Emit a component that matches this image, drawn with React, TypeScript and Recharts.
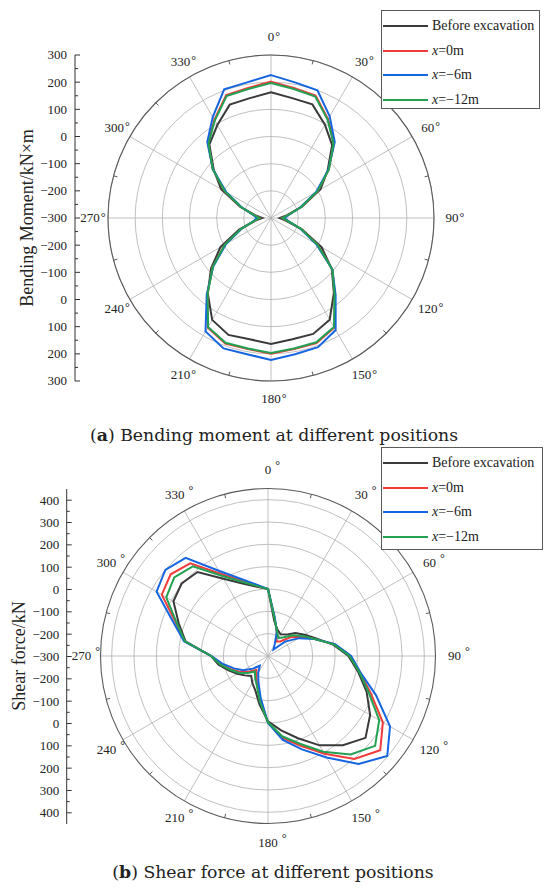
import React from 'react';
import {
  RadarChart, Radar, PolarGrid, PolarAngleAxis, PolarRadiusAxis, Legend,
  LineChart, Line, YAxis,
} from 'recharts';

// ---------- data ----------
const angles = [0,10,20,30,40,50,60,70,80,90,100,110,120,130,140,150,160,170,180,190,200,210,220,230,240,250,260,270,280,290,300,310,320,330,340,350];

const seriesNames = ['Before excavation', 'x=0m', 'x=\u22126m', 'x=\u221212m'];
const seriesColors = ['#3a3a3a', '#f03b3b', '#1565e0', '#22a152'];

// (a) bending moment, kN·m
const momentBefore = [163,148,145,97,50,-28,-90,-180,-240,-268,-245,-180,-85,-8,60,132,154,153,164,153,158,133,62,-12,-85,-175,-240,-268,-240,-180,-88,-25,53,95,144,148];
const momentX0 = [202,186,180,120,60,-22,-102,-182,-235,-258,-238,-183,-102,-5,66,166,190,190,200,190,192,166,64,-20,-104,-183,-238,-258,-235,-182,-104,-20,60,117,182,186];
const momentX6 = [226,207,200,132,65,-25,-108,-185,-232,-250,-235,-185,-108,-5,70,176,206,209,223,209,211,182,68,-23,-109,-185,-235,-248,-232,-185,-110,-21,65,129,204,207];
const momentX12 = [197,182,176,117,58,-22,-102,-182,-235,-258,-238,-183,-102,-5,64,163,187,188,197,188,189,163,63,-20,-104,-183,-238,-258,-235,-182,-104,-20,58,114,178,182];

// (b) shear force, kN
const shearBefore = [0,-140,-175,-188,-175,-140,-110,-70,-5,60,110,170,228,270,222,162,92,38,-8,-80,-135,-160,-183,-165,-141,-112,-75,-45,75,125,189,205,191,99,47,16];
const shearX0 = [0,-128,-185,-225,-215,-170,-128,-78,2,70,118,190,294,356,302,205,128,72,-2,-98,-160,-195,-219,-192,-158,-125,-85,-46,80,140,249,269,242,125,60,22];
const shearX6 = [0,-125,-185,-240,-262,-200,-140,-78,5,72,120,215,331,397,331,225,145,82,0,-110,-175,-212,-243,-212,-172,-138,-95,-47,82,153,276,300,274,141,69,27];
const shearX12 = [0,-130,-182,-207,-190,-155,-120,-78,0,65,115,180,275,326,276,195,118,65,-3,-92,-155,-185,-209,-182,-150,-120,-82,-45,78,135,226,248,224,115,55,20];

// ticks
const angleTicks = [0,30,60,90,120,150,180,210,240,270,300,330];
const minorAngleTicks = [15,45,75,105,135,165,195,225,255,285,315,345];
const momentTicks = [300,200,100,0,-100,-200,-300];
const shearTicks = [400,300,200,100,0,-100,-200,-300];
const momentDomain = [-300, 300];
const shearDomain = [-300, 450];

const titleA = 'Bending Moment/kN\u00d7m';
const titleB = 'Shear force/kN';

// ---------- helpers ----------
const serif = "'Liberation Serif', 'Times New Roman', serif";
const captionFont = "'DejaVu Serif', serif";
const keys = ['s0', 's1', 's2', 's3'];

const build = (lists: number[][]) =>
  angles.map((angle, i) => {
    const row: Record<string, number> = { angle };
    lists.forEach((l, k) => { row[keys[k]] = l[i]; });
    return row;
  });

const momentData = build([momentBefore, momentX0, momentX6, momentX12]);
const shearData = build([shearBefore, shearX0, shearX6, shearX12]);

const sortedAsc = (t: number[]) => [...t].sort((a, b) => a - b);
const mids = (t: number[]) => {
  const s = sortedAsc(t);
  return s.slice(0, -1).map((v, i) => (v + s[i + 1]) / 2);
};

const fmt = (v: number) => (v < 0 ? '\u2212' + Math.abs(v) : String(v));

const renderName = (name: string) =>
  name.startsWith('x') ? (
    <span><i>x</i>{name.slice(1)}</span>
  ) : (
    <span>{name}</span>
  );

const legendContent = (props: any) => {
  const payload = props.payload || [];
  return (
    <div
      style={{
        border: '1.3px solid #5a5a5a',
        background: '#fff',
        boxSizing: 'border-box',
        width: '100%',
        height: '100%',
        paddingTop: 2.5,
      }}
    >
      {payload.map((e: any) => (
        <div key={e.value} style={{ display: 'flex', alignItems: 'center', height: 24.7 }}>
          <svg width={47} height={10} style={{ display: 'block' }}>
            <line x1={1} x2={46} y1={5} y2={5} stroke={e.color} strokeWidth={2} />
          </svg>
          <span style={{ marginLeft: 3, fontFamily: serif, fontSize: 14, color: '#222', lineHeight: '16px', whiteSpace: 'nowrap' }}>
            {renderName(String(e.value))}
          </span>
        </div>
      ))}
    </div>
  );
};

const makeAngleTick = (degGap: number, degRise: number) => (props: any) => {
  const { x, y, payload } = props;
  const label = String(payload.value);
  const half = label.length * 3.25;
  return (
    <g>
      <text x={x} y={y} dy={4.4} textAnchor="middle" fontSize={13} fontFamily={serif} fill="#222">
        {label}
      </text>
      <text x={x + half + degGap} y={y + 4.4 - degRise} textAnchor="start" fontSize={12} fontFamily={serif} fill="#222">
        {'\u00b0'}
      </text>
    </g>
  );
};

type PanelProps = {
  data: any[];
  top: number;
  cx: number;
  cy: number;
  outerRadius: number;
  domain: number[];
  ticks: number[];
  legendBox: { left: number; top: number; width: number; height: number };
  labelDist: number;
  degGap: number;
  degRise: number;
};

function PolarPanel(p: PanelProps) {
  const major = sortedAsc(p.ticks);
  const minor = mids(p.ticks);
  return (
    <div style={{ position: 'absolute', left: 0, top: p.top, width: 550, height: 440 }}>
      <RadarChart
        width={550}
        height={440}
        data={p.data}
        cx={p.cx}
        cy={p.cy}
        outerRadius={p.outerRadius}
        margin={{ top: 0, right: 0, bottom: 0, left: 0 }}
      >
        <PolarGrid
          gridType="circle"
          angleAxisId="minor"
          radiusAxisId="minor"
          stroke="#c6c6c6"
          strokeWidth={0.8}
          strokeDasharray="1.5 2"
        />
        <PolarGrid gridType="circle" stroke="#b0b0b0" strokeWidth={0.8} />
        <PolarRadiusAxis type="number" domain={p.domain} ticks={major} tick={false} axisLine={false} tickLine={false} />
        <PolarRadiusAxis radiusAxisId="minor" type="number" domain={p.domain} ticks={minor} tick={false} axisLine={false} tickLine={false} />
        <PolarAngleAxis
          dataKey="angle"
          type="number"
          domain={[0, 360]}
          ticks={angleTicks}
          axisLineType="circle"
          stroke="#5a5a5a"
          axisLine={{ strokeWidth: 1.1 }}
          tickLine={false}
          tickSize={p.labelDist}
          tick={makeAngleTick(p.degGap, p.degRise)}
        />
        <PolarAngleAxis
          angleAxisId="minor"
          dataKey="angle"
          type="number"
          domain={[0, 360]}
          ticks={minorAngleTicks}
          axisLine={false}
          tick={false}
          orientation="inner"
          tickSize={4}
          tickLine={{ stroke: '#5a5a5a', strokeWidth: 1 }}
        />
        {keys.map((k, i) => (
          <Radar
            key={k}
            dataKey={k}
            name={seriesNames[i]}
            stroke={seriesColors[i]}
            strokeWidth={2}
            fill="none"
            fillOpacity={0}
            dot={false}
            isAnimationActive={false}
          />
        ))}
        <Legend
          layout="vertical"
          verticalAlign="top"
          align="right"
          itemSorter="dataKey"
          wrapperStyle={{ position: 'absolute', ...p.legendBox }}
          content={legendContent}
        />
      </RadarChart>
    </div>
  );
}

type AxisProps = {
  top: number;
  span: number; // plot height / 2
  axisX: number;
  labels: number[];
  base: number;
  outer: number;
  gap: number;
};

function MirrorAxis(a: AxisProps) {
  const extent = a.outer - a.base;
  const majorSet = new Set(a.labels);
  const majorPos = a.labels.map((v) => v - a.base);
  const minorPos = mids(a.labels).map((v) => v - a.base);
  const all = Array.from(
    new Set([...majorPos, ...minorPos, ...majorPos.map((q) => -q), ...minorPos.map((q) => -q)])
  ).sort((x, y) => x - y);
  const tickSize = 4;
  const tickMargin = a.gap - tickSize;
  const renderTick = (props: any) => {
    const { x, y, payload } = props;
    const q = Number(payload.value);
    const v = Math.abs(q) + a.base;
    const isMajor = majorSet.has(v);
    const ax = x + a.gap;
    return (
      <g>
        <line x1={ax} x2={ax + (isMajor ? 5 : 3)} y1={y} y2={y} stroke="#333" strokeWidth={1} />
        {isMajor && (
          <text x={x} y={y} dy={4.4} textAnchor="end" fontSize={13} fontFamily={serif} fill="#222">
            {fmt(v)}
          </text>
        )}
      </g>
    );
  };
  return (
    <div style={{ position: 'absolute', left: 0, top: a.top - 10, width: a.axisX + 20, height: a.span * 2 + 20 }}>
      <LineChart
        width={a.axisX + 20}
        height={a.span * 2 + 20}
        data={[{ q: -extent }, { q: extent }]}
        margin={{ top: 10, right: 0, bottom: 10, left: 0 }}
      >
        <YAxis
          type="number"
          dataKey="q"
          domain={[-extent, extent]}
          allowDataOverflow
          ticks={all}
          interval={0}
          width={a.axisX}
          tickSize={tickSize}
          tickMargin={tickMargin}
          tickLine={false}
          axisLine={{ stroke: '#333', strokeWidth: 1 }}
          tick={renderTick}
        />
        <Line dataKey="q" stroke="none" dot={false} isAnimationActive={false} />
      </LineChart>
    </div>
  );
}

const AxisTitle = ({ text, x, y }: { text: string; x: number; y: number }) => (
  <div
    style={{
      position: 'absolute',
      left: x,
      top: y,
      transform: 'translate(-50%, -50%) rotate(-90deg)',
      whiteSpace: 'nowrap',
      fontFamily: serif,
      fontSize: 18,
      color: '#222',
      lineHeight: '20px',
    }}
  >
    {text}
  </div>
);

const Caption = ({ tag, text, x, y }: { tag: string; text: string; x: number; y: number }) => (
  <div
    style={{
      position: 'absolute',
      left: x,
      top: y,
      transform: 'translate(-50%, -50%)',
      whiteSpace: 'nowrap',
      fontFamily: captionFont,
      fontSize: 17.3,
      color: '#222',
      lineHeight: '22px',
    }}
  >
    (<b>{tag}</b>) {text}
  </div>
);

export default function App() {
  return (
    <div style={{ position: 'absolute', left: 0, top: 0, width: 550, height: 892, background: '#fff', overflow: 'hidden' }}>
      <PolarPanel
        data={momentData}
        top={0}
        cx={271}
        cy={218}
        outerRadius={163}
        domain={momentDomain}
        ticks={momentTicks}
        legendBox={{ left: 381, top: 10, width: 159, height: 99 }}
        labelDist={18}
        degGap={1}
        degRise={1.5}
      />
      <MirrorAxis top={55} span={163} axisX={75} labels={momentTicks} base={-300} outer={300} gap={8} />
      <AxisTitle text={titleA} x={27} y={218} />
      <Caption tag="a" text="Bending moment at different positions" x={274} y={435} />

      <PolarPanel
        data={shearData}
        top={440}
        cx={268}
        cy={216}
        outerRadius={167.5}
        domain={shearDomain}
        ticks={shearTicks}
        legendBox={{ left: 381, top: 7, width: 162, height: 103 }}
        labelDist={19}
        degGap={4}
        degRise={5}
      />
      <MirrorAxis top={488.5} span={167.5} axisX={66.7} labels={shearTicks} base={-300} outer={450} gap={7.4} />
      <AxisTitle text={titleB} x={18.5} y={656} />
      <Caption tag="b" text="Shear force at different positions" x={273} y={872} />
    </div>
  );
}
